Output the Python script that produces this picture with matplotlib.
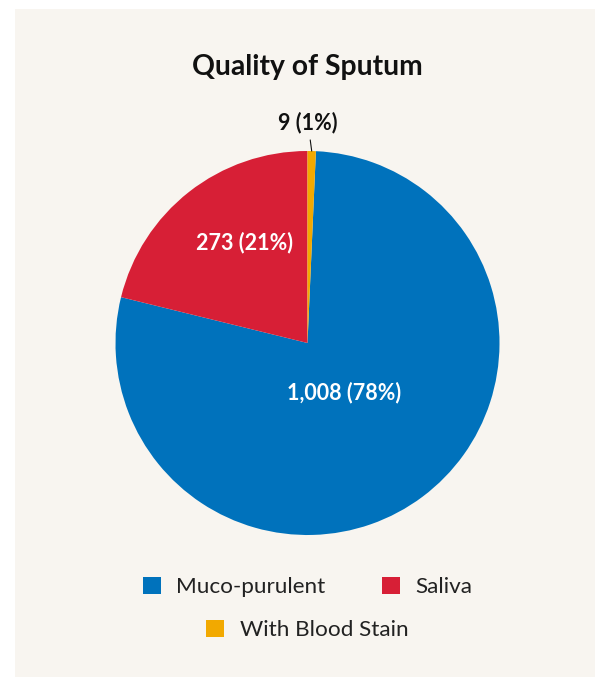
import numpy as np
import matplotlib.pyplot as plt
from matplotlib.patches import Rectangle, Patch

plt.rcParams['font.family'] = ['Lato', 'DejaVu Sans']

categories = ['Muco-purulent', 'Saliva', 'With Blood Stain']
counts = [1008, 273, 9]
colors = ['#0072bc', '#d71f36', '#f2a900']

W, H = 595, 677
fig = plt.figure(figsize=(W / 100, H / 100), dpi=100)
fig.patch.set_facecolor('white')
fig.patches.append(Rectangle((15 / W, 0), 1 - 15 / W, (H - 9) / H,
                             transform=fig.transFigure, facecolor='#f8f5f0',
                             edgecolor='none', zorder=-10))

# pie axes: centre (307.5, 343) px, radius 192 px
cx, cy, r = 307.5, 343, 192
ax = fig.add_axes([(cx - r) / W, (H - cy - r) / H, 2 * r / W, 2 * r / H])

total = sum(counts)
offset = counts[2] / total * 360
wedges, _ = ax.pie(counts, colors=colors, startangle=90 - offset,
                   counterclock=False, radius=1,
                   wedgeprops=dict(linewidth=0))
ax.set_xlim(-1, 1)
ax.set_ylim(-1, 1)
ax.set_aspect('equal')
ax.axis('off')

dist = [0.32, 0.62]
nudge = [0, -6]  # degrees
for i, w in enumerate(wedges):
    pct = counts[i] / total * 100
    txt = f'{counts[i]:,} ({pct:.0f}%)'
    ang = np.deg2rad((w.theta1 + w.theta2) / 2)
    if i < 2:
        a = ang + np.deg2rad(nudge[i])
        ax.text(dist[i] * np.cos(a), dist[i] * np.sin(a), txt,
                ha='center', va='center', color='white', fontsize=15.5,
                fontweight='bold')
    else:
        x0, y0 = np.cos(ang), np.sin(ang)
        ax.annotate(txt, xy=(x0, y0), xytext=(x0 - 0.02, 1.15),
                    ha='center', va='center', fontsize=15.5, fontweight='bold',
                    color='#111111', annotation_clip=False,
                    arrowprops=dict(arrowstyle='-', color='#111111', lw=0.8,
                                    shrinkA=3, shrinkB=0))

fig.text(cx / W, 1 - 67 / H, 'Quality of Sputum', ha='center', va='center',
         fontsize=20.3, fontweight='bold', color='#111111')

handles = [Patch(facecolor=c, edgecolor='none') for c in colors]
leg1 = fig.legend(handles[:2], categories[:2], ncol=2, loc='center',
                  bbox_to_anchor=(307.5 / W, 1 - 587 / H), frameon=False,
                  fontsize=16.2, handlelength=0.8, handleheight=0.8,
                  handletextpad=0.7, columnspacing=2.5)
leg2 = fig.legend(handles[2:], categories[2:], loc='center',
                  bbox_to_anchor=(307.5 / W, 1 - 630 / H), frameon=False,
                  fontsize=16.2, handlelength=0.8, handleheight=0.8,
                  handletextpad=0.7)
for leg in (leg1, leg2):
    for t in leg.get_texts():
        t.set_color('#222222')

fig.savefig('out.png', dpi=100, facecolor=fig.get_facecolor())
